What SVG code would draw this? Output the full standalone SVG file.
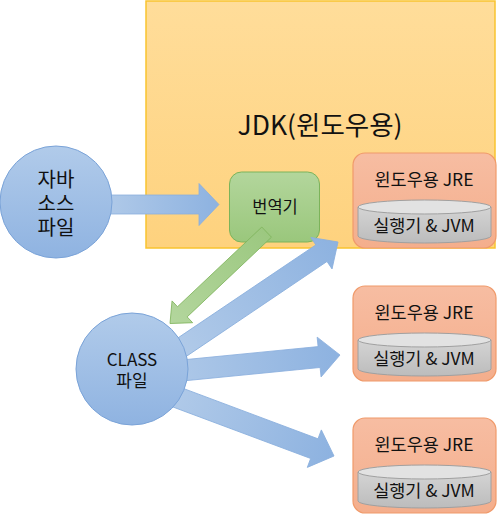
<svg xmlns="http://www.w3.org/2000/svg" width="497" height="514" viewBox="0 0 497 514">
<defs>
<linearGradient id="gJdk" x1="0" y1="0" x2="0" y2="1"><stop offset="0" stop-color="#ffdd9a"/><stop offset="1" stop-color="#fed27e"/></linearGradient>
<linearGradient id="gBlue" x1="0" y1="0" x2="0" y2="1"><stop offset="0" stop-color="#b1cbea"/><stop offset="1" stop-color="#8fb3e1"/></linearGradient>
<linearGradient id="gArrow" x1="0" y1="0" x2="1" y2="0"><stop offset="0" stop-color="#b2cbe9"/><stop offset="1" stop-color="#8db2e0"/></linearGradient>
<linearGradient id="gGreen" x1="0" y1="0" x2="0" y2="1"><stop offset="0" stop-color="#b3d69c"/><stop offset="1" stop-color="#9ac77c"/></linearGradient>
<linearGradient id="gGreenArrow" x1="0" y1="0" x2="1" y2="0"><stop offset="0" stop-color="#9cc880"/><stop offset="1" stop-color="#b3d69d"/></linearGradient>
<linearGradient id="gJre" x1="0" y1="0" x2="0" y2="1"><stop offset="0" stop-color="#f7bda2"/><stop offset="1" stop-color="#f4ae8c"/></linearGradient>
<linearGradient id="gCyl" x1="0" y1="0" x2="0" y2="1"><stop offset="0" stop-color="#d4d4d4"/><stop offset="1" stop-color="#bcbcbc"/></linearGradient>
</defs>
<style>
text{font-family:"Noto Sans CJK KR","Noto Sans",sans-serif;fill:#111;text-anchor:middle}
.circle{fill:url(#gBlue);stroke:#7aa3d8;stroke-width:1}
.barrow{fill:url(#gArrow);stroke:#8aafdd;stroke-width:0.8}
.garrow{fill:url(#gGreenArrow);stroke:#7fb45c;stroke-width:0.8}
.jre{fill:url(#gJre);stroke:#f09a6a;stroke-width:1.2}
.cyl{fill:url(#gCyl);stroke:#a0a0a0;stroke-width:1}
.cyltop{fill:#e2e2e2;stroke:#a0a0a0;stroke-width:1}
.t17{font-size:17.5px}
.t16{font-size:16.5px}
.t20{font-size:20px}
</style>
<g id="jdk">
<rect x="146" y="1" width="349" height="247" fill="url(#gJdk)" stroke="#f9c32f" stroke-width="1.5"/>
<text x="320" y="135" style="font-size:26.5px">JDK(윈도우용)</text>
</g>
<g id="translator">
<rect x="229.5" y="172" width="90" height="70" rx="12" fill="url(#gGreen)" stroke="#7cb35a" stroke-width="1"/>
<text class="t16" x="275" y="212.5">번역기</text>
</g>
<g id="jre1">
<rect class="jre" x="353" y="153" width="143" height="95" rx="12"/>
<text class="t17" x="424" y="186">윈도우용 JRE</text>
<path class="cyl" d="M358,207 V236 A66.5,7 0 0 0 491,236 V207 Z"/>
<ellipse class="cyltop" cx="424.5" cy="207" rx="66.5" ry="7"/>
<text class="t17" x="424" y="232">실행기 &amp; JVM</text>
</g>
<g id="jre2">
<rect class="jre" x="353" y="286" width="143" height="95" rx="12"/>
<text class="t17" x="424" y="319">윈도우용 JRE</text>
<path class="cyl" d="M358,340 V369 A66.5,7 0 0 0 491,369 V340 Z"/>
<ellipse class="cyltop" cx="424.5" cy="340" rx="66.5" ry="7"/>
<text class="t17" x="424" y="365">실행기 &amp; JVM</text>
</g>
<g id="jre3">
<rect class="jre" x="353" y="418" width="143" height="95" rx="12"/>
<text class="t17" x="424" y="451">윈도우용 JRE</text>
<path class="cyl" d="M358,472 V501 A66.5,7 0 0 0 491,501 V472 Z"/>
<ellipse class="cyltop" cx="424.5" cy="472" rx="66.5" ry="7"/>
<text class="t17" x="424" y="497">실행기 &amp; JVM</text>
</g>
<g id="connectors">
<path class="barrow" transform="translate(219,204.5)" d="M-120,-9.5 H-20 V-21 L0,0 L-20,21 V9.5 H-120 Z"/>
<path class="garrow" transform="translate(170,323.5) rotate(136.6)" d="M-133,-7 H-17 V-15 L0,0 L-17,15 V7 H-133 Z"/>
<path class="barrow" transform="translate(338,242) rotate(-34)" d="M-200,-10 H-20 V-19 L0,0 L-20,19 V10 H-200 Z"/>
<path class="barrow" transform="translate(340,355) rotate(-5.6)" d="M-190,-10.5 H-21 V-20 L0,0 L-21,20 V10.5 H-190 Z"/>
<path class="barrow" transform="translate(334,456) rotate(20.5)" d="M-180,-10.5 H-21 V-20 L0,0 L-21,20 V10.5 H-180 Z"/>
</g>
<g id="source">
<circle class="circle" cx="56" cy="202" r="56"/>
<text class="t20"><tspan x="56" y="187">자바</tspan><tspan x="56" y="211">소스</tspan><tspan x="56" y="235">파일</tspan></text>
</g>
<g id="classfile">
<circle class="circle" cx="132" cy="369" r="56"/>
<text style="font-size:17px"><tspan x="132" y="366">CLASS</tspan><tspan x="132" y="387">파일</tspan></text>
</g>
</svg>
